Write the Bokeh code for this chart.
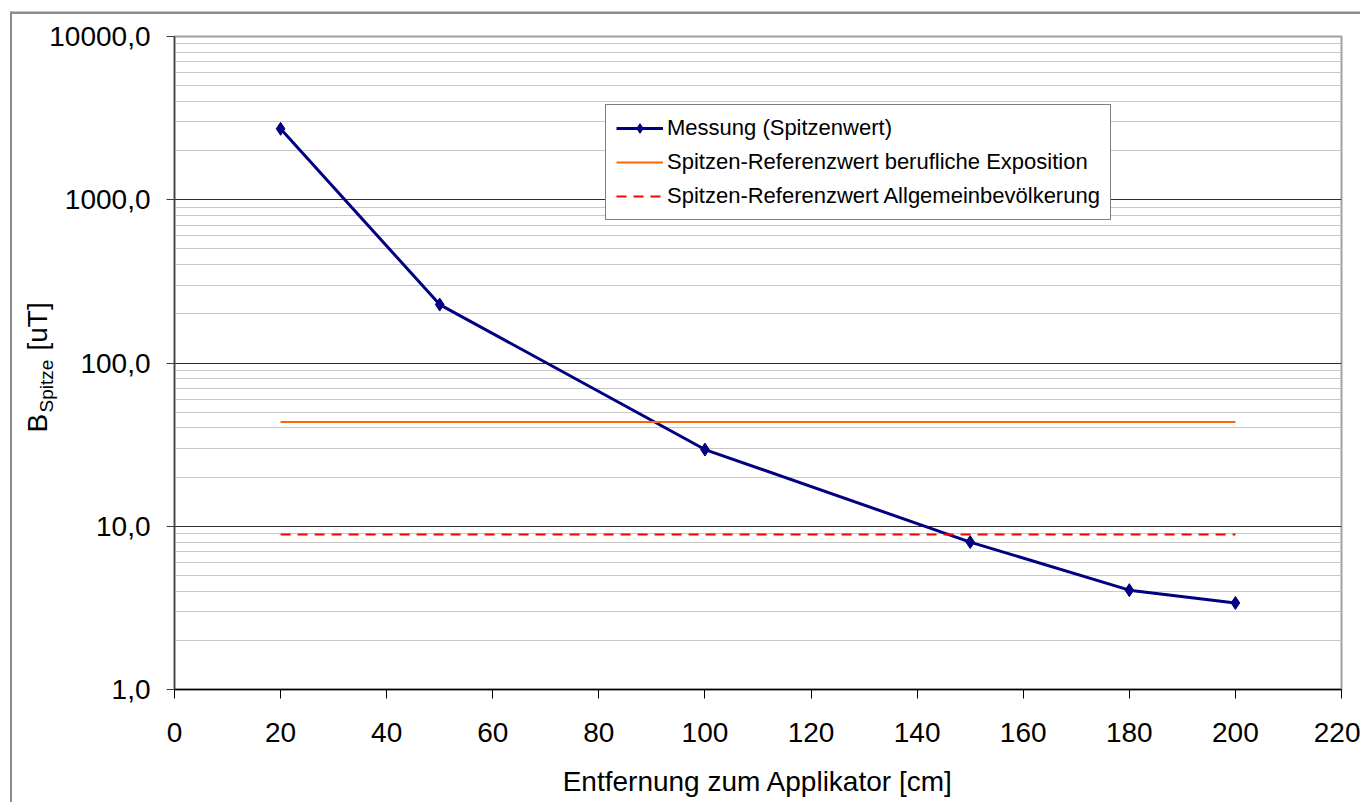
import math
from bokeh.plotting import figure
from bokeh.layouts import row
from bokeh.models import FixedTicker, Label, Legend, LegendItem, Range1d, BoxAnnotation
from bokeh.embed import file_html
from bokeh.resources import INLINE

# ---- data ----
distance = [20, 50, 100, 150, 180, 200]
b_peak = [2720, 228, 29.5, 8.0, 4.06, 3.39]
ref_x = [20, 200]
ref_occupational = [43.5, 43.5]
ref_public = [8.9, 8.9]

x_ticks = [0, 20, 40, 60, 80, 100, 120, 140, 160, 180, 200, 220]
y_ticks = [1, 10, 100, 1000, 10000]
y_tick_labels = ["1,0", "10,0", "100,0", "1000,0", "10000,0"]
y_minor = [m * 10 ** e for e in range(4) for m in range(2, 10)]

series_names = ["Messung (Spitzenwert)",
                "Spitzen-Referenzwert berufliche Exposition",
                "Spitzen-Referenzwert Allgemeinbevölkerung"]
x_label = "Entfernung zum Applikator [cm]"
y_label_parts = ["B", "Spitze", "[uT]"]

FONT = "Liberation Sans"
W, H = 1360, 802

p = figure(width=W, height=H, y_axis_type="log",
           x_range=Range1d(0, 220), y_range=Range1d(1, 10000),
           output_backend="svg", toolbar_location=None,
           min_border_left=174, min_border_right=W - 1341,
           min_border_top=36, min_border_bottom=H - 689)

p.background_fill_color = "white"
p.border_fill_color = "white"
p.outline_line_color = "#a0a0a0"
p.outline_line_width = 2

# grids
p.xgrid.grid_line_color = None
p.ygrid.ticker = FixedTicker(ticks=y_ticks, minor_ticks=y_minor)
p.ygrid.grid_line_color = "#303030"
p.ygrid.grid_line_width = 1
p.ygrid.minor_grid_line_color = "#c8c8c8"
p.ygrid.minor_grid_line_width = 1.2

# y axis
ya = p.yaxis[0]
ya.ticker = FixedTicker(ticks=y_ticks, minor_ticks=y_minor)
ya.major_label_overrides = dict(zip(y_ticks, y_tick_labels))
ya.major_label_text_font = FONT
ya.major_label_text_font_size = "28px"
ya.major_label_text_color = "black"
ya.major_label_standoff = 16
ya.major_tick_out = 8
ya.major_tick_in = 0
ya.minor_tick_line_color = None
ya.axis_line_color = "#404040"
ya.axis_line_width = 1.5
ya.major_tick_line_color = "#404040"

# x axis
xa = p.xaxis[0]
xa.ticker = FixedTicker(ticks=x_ticks)
xa.major_label_text_font = FONT
xa.major_label_text_font_size = "28px"
xa.major_label_text_color = "black"
xa.major_label_standoff = 24
xa.major_tick_out = 9
xa.major_tick_in = 0
xa.minor_tick_line_color = None
xa.axis_line_color = "black"
xa.axis_line_width = 1.5
xa.major_tick_line_color = "black"
xa.axis_label = x_label
xa.axis_label_text_font = FONT
xa.axis_label_text_font_size = "28px"
xa.axis_label_text_font_style = "normal"
xa.axis_label_text_color = "black"
xa.axis_label_standoff = 21

# series
r_meas = p.line(distance, b_peak, line_color="#000080", line_width=3)
r_meas_pts = p.scatter(distance, b_peak, marker="diamond", size=13,
                       fill_color="#000080", line_color="#000080")
r_occ = p.line(ref_x, ref_occupational, line_color="#FF6600", line_width=2)
r_pub = p.line(ref_x, ref_public, line_color="#FF0000", line_width=2,
               line_dash="10 7")

legend = Legend(items=[
    LegendItem(label=series_names[0], renderers=[r_meas, r_meas_pts]),
    LegendItem(label=series_names[1], renderers=[r_occ]),
    LegendItem(label=series_names[2], renderers=[r_pub]),
], location=(431, 469))
legend.label_text_font = FONT
legend.label_text_font_size = "22px"
legend.label_text_color = "black"
legend.padding = 10
legend.spacing = 8
legend.glyph_width = 47
legend.glyph_height = 24
legend.label_height = 24
legend.label_standoff = 4
legend.border_line_color = "black"
legend.border_line_width = 1
legend.background_fill_color = "white"
legend.background_fill_alpha = 1
legend.margin = 0
p.add_layout(legend)

# ---- transparent overlay (same size) for the y title and the chart-area frame ----
ov = figure(width=W, height=H, x_range=Range1d(0, 1), y_range=Range1d(0, 1),
            x_axis_type=None, y_axis_type=None,
            output_backend="svg", toolbar_location=None, min_border=0)
ov.outline_line_color = None
ov.background_fill_alpha = 0
ov.border_fill_alpha = 0
ov.grid.visible = False

if "frame_align" in ov.properties():
    ov.frame_align = False
    p.frame_align = False
    fb = H          # overlay frame bottom (canvas y)
else:
    fb = 689        # frame bottom when frames are aligned with the chart

half_pi = math.pi / 2
lab_b = Label(x=37, y=fb - 432, x_units="screen", y_units="screen",
              text=y_label_parts[0], angle=half_pi,
              text_font=FONT, text_font_size="28px", text_color="black",
              text_align="left", text_baseline="middle")
lab_s = Label(x=46, y=fb - 412, x_units="screen", y_units="screen",
              text=y_label_parts[1], angle=half_pi,
              text_font=FONT, text_font_size="19px", text_color="black",
              text_align="left", text_baseline="middle")
lab_u = Label(x=37, y=fb - 350, x_units="screen", y_units="screen",
              text=y_label_parts[2], angle=half_pi,
              text_font=FONT, text_font_size="28px", text_color="black",
              text_align="left", text_baseline="middle")
for lab in (lab_b, lab_s, lab_u):
    ov.add_layout(lab)

# chart-area frame: left and top edges only
left_edge = BoxAnnotation(left=9.5, right=11.5, top=fb - 11, bottom=fb - H - 50,
                          left_units="screen", right_units="screen",
                          top_units="screen", bottom_units="screen",
                          fill_color="#8c8c8c", fill_alpha=1, line_color=None)
top_edge = BoxAnnotation(left=9.5, right=W + 50, top=fb - 11, bottom=fb - 13.5,
                         left_units="screen", right_units="screen",
                         top_units="screen", bottom_units="screen",
                         fill_color="#8c8c8c", fill_alpha=1, line_color=None)
ov.add_layout(left_edge)
ov.add_layout(top_edge)

p.styles = {"margin-right": f"-{W}px"}
layout = row(p, ov)

open("out.html", "w").write(file_html(layout, INLINE))
